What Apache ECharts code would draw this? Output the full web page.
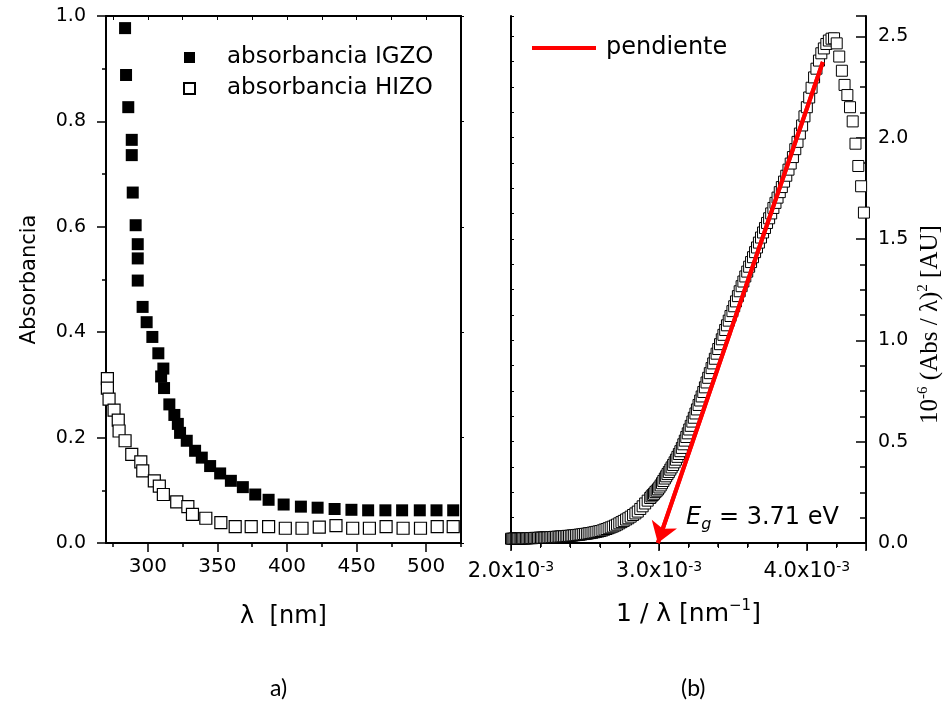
<!DOCTYPE html>
<html><head><meta charset="utf-8">
<script src="https://cdn.jsdelivr.net/npm/echarts@6/dist/echarts.min.js"></script>
<style>html,body{margin:0;padding:0;background:#fff}#c{width:946px;height:704px}</style>
</head><body><div id="c"></div>
<script>
// ---- panel a) absorbance vs wavelength ----
const igzoLambda = [283.7,284.4,286.0,288.5,288.5,289.2,291.3,292.8,292.8,292.8,296.3,299.2,303.3,307.6,311.2,309.6,311.7,315.5,319.1,321.6,323.2,328.0,334.0,338.8,344.8,352.0,359.7,368.3,377.2,386.8,397.6,410.0,422.0,434.2,446.3,458.3,470.7,482.7,495.4,507.4,519.4];
const igzoAbs = [0.977,0.888,0.827,0.765,0.736,0.665,0.603,0.567,0.540,0.498,0.448,0.419,0.391,0.360,0.331,0.316,0.294,0.263,0.243,0.226,0.209,0.194,0.175,0.162,0.146,0.132,0.118,0.106,0.092,0.082,0.073,0.069,0.067,0.0645,0.063,0.062,0.062,0.062,0.062,0.062,0.062];
const hizoLambda = [271.0,271.0,272.2,275.8,278.8,279.4,283.7,288.5,295.0,296.4,304.7,308.3,311.2,320.8,328.8,332.1,341.7,352.5,362.8,374.3,386.8,398.8,410.8,423.2,435.2,447.2,459.2,471.2,483.4,495.9,507.9,519.4];
const hizoAbs = [0.312,0.294,0.273,0.252,0.233,0.2125,0.194,0.168,0.154,0.137,0.118,0.108,0.092,0.078,0.069,0.0545,0.047,0.0385,0.031,0.031,0.031,0.028,0.028,0.030,0.033,0.028,0.028,0.031,0.028,0.028,0.031,0.031];
const lambdaMajorTicks = [300, 350, 400, 450, 500];
const lambdaMinorTicks = [275, 325, 375, 425, 475, 525];

// ---- panel (b) Tauc plot: 1/lambda in units of 1e-3 nm^-1 ----
const invLambda = [2.000,2.008,2.016,2.024,2.033,2.041,2.049,2.058,2.066,2.075,
2.083,2.092,2.101,2.110,2.119,2.128,2.137,2.146,2.155,2.165,
2.174,2.183,2.193,2.203,2.212,2.222,2.232,2.242,2.252,2.262,
2.273,2.283,2.294,2.304,2.315,2.326,2.336,2.347,2.358,2.370,
2.381,2.392,2.404,2.415,2.427,2.439,2.451,2.463,2.475,2.488,
2.500,2.513,2.525,2.538,2.551,2.564,2.577,2.591,2.604,2.618,
2.632,2.646,2.660,2.674,2.688,2.703,2.717,2.732,2.747,2.762,
2.778,2.793,2.809,2.825,2.841,2.857,2.874,2.890,2.907,2.924,
2.941,
2.950,2.959,2.967,2.976,2.985,2.994,3.003,3.012,3.021,3.030,
3.040,3.049,3.058,3.067,3.077,3.086,3.096,3.106,3.115,3.125,
3.135,3.145,3.155,3.165,3.175,3.185,3.195,3.205,3.215,3.226,
3.236,3.247,3.257,3.268,3.279,3.289,3.300,3.311,3.322,3.333,
3.344,3.356,3.367,3.378,3.390,3.401,3.413,3.425,3.436,3.448,
3.460,3.472,3.484,3.497,3.509,3.521,3.534,3.546,3.559,3.571,
3.584,3.597,3.610,3.623,3.636,3.650,3.663,3.676,3.690,3.704,
3.717,3.731,3.745,3.759,3.774,3.788,3.802,3.817,3.831,3.846,
3.861,3.876,3.891,3.906,3.922,3.937,3.953,3.968,3.984,4.000,
4.016,4.032,4.049,4.065,4.082,4.098,4.115,4.132,4.149,4.167,
4.184,4.202,
4.219,4.237,4.255,4.274,4.292,4.310,4.329,4.348,4.367,4.386];
const absSq = [0.021,0.021,0.021,0.022,0.022,0.022,0.022,0.022,0.022,0.023,
0.023,0.023,0.023,0.023,0.024,0.024,0.024,0.024,0.025,0.025,
0.025,0.025,0.026,0.026,0.026,0.027,0.027,0.027,0.028,0.028,
0.029,0.029,0.030,0.030,0.031,0.031,0.032,0.033,0.033,0.034,
0.035,0.035,0.036,0.037,0.038,0.039,0.040,0.041,0.042,0.044,
0.045,0.046,0.048,0.049,0.051,0.053,0.055,0.057,0.059,0.062,
0.066,0.069,0.073,0.077,0.081,0.086,0.091,0.097,0.103,0.109,
0.116,0.122,0.130,0.138,0.146,0.155,0.168,0.181,0.195,0.209,
0.222,
0.230,0.237,0.243,0.251,0.258,0.265,0.274,0.284,0.295,0.306,
0.318,0.329,0.340,0.350,0.362,0.373,0.385,0.398,0.411,0.425,
0.439,0.453,0.469,0.487,0.505,0.523,0.541,0.560,0.578,0.599,
0.618,0.639,0.659,0.681,0.703,0.723,0.745,0.768,0.792,0.815,
0.838,0.863,0.886,0.909,0.934,0.957,0.981,1.005,1.027,1.051,
1.074,1.097,1.120,1.144,1.168,1.192,1.218,1.242,1.267,1.290,
1.315,1.339,1.363,1.386,1.410,1.435,1.458,1.482,1.507,1.532,
1.554,1.579,1.602,1.626,1.653,1.678,1.704,1.731,1.756,1.783,
1.812,1.842,1.872,1.904,1.943,1.979,2.020,2.060,2.105,2.150,
2.198,2.246,2.297,2.340,2.380,2.416,2.440,2.462,2.479,2.488,
2.490,2.465,
2.40,2.33,2.26,2.21,2.15,2.08,1.97,1.86,1.76,1.63];
const slopeX = [4.108, 2.993];
const slopeY = [2.373, 0];
const egLabelPos = [3.70, 0.125];
const egText = '3.71 eV';

const SANS = 'DejaVu Sans';
const SERIF = 'Liberation Serif';
const zip = (a, b) => a.map((v, i) => [v, b[i]]);

const frame = {lineStyle: {color: '#000', width: 2}};
const hollow = {color: '#fff', borderColor: '#000', borderWidth: 1.2, opacity: 1};

const chart = echarts.init(document.getElementById('c'), null, {renderer: 'canvas'});
chart.setOption({
  animation: false,
  backgroundColor: '#fff',
  textStyle: {fontFamily: SANS, color: '#000'},
  title: [
    {text: 'a)', left: 265, top: 672, textStyle: {fontFamily: 'Lato', fontSize: 23, fontWeight: 'normal', color: '#000'}},
    {text: '(b)', left: 676, top: 672, textStyle: {fontFamily: 'Lato', fontSize: 23, fontWeight: 'normal', color: '#000'}}
  ],
  grid: [
    {left: 106, top: 16, width: 355, height: 527},
    {left: 511, top: 16, width: 355, height: 527}
  ],
  legend: [
    {data: ['absorbancia IGZO', 'absorbancia HIZO'], orient: 'vertical', left: 183, top: 45, padding: 0,
     itemWidth: 11, itemHeight: 11, itemGap: 6,
     textStyle: {fontFamily: SANS, fontSize: 23, color: '#000', lineHeight: 25, padding: [0, 0, 0, 27]}},
    {data: [{name: 'pendiente', icon: 'rect'}], left: 532, top: 36, padding: 0, itemWidth: 64, itemHeight: 4,
     textStyle: {fontFamily: SANS, fontSize: 24, color: '#000', padding: [0, 0, 0, 5]}}
  ],
  xAxis: [
    {gridIndex: 0, type: 'value', min: 270, max: 525, position: 'bottom',
     axisLine: frame,
     axisTick: {show: true, inside: false, length: 9, customValues: lambdaMajorTicks, lineStyle: {width: 1.5, color: '#000'}},
     minorTick: {show: false}, splitLine: {show: false},
     axisLabel: {fontSize: 20, color: '#000', margin: 14, fontFamily: SANS, customValues: lambdaMajorTicks},
     name: 'λ  [nm]', nameLocation: 'middle', nameGap: 62,
     nameTextStyle: {fontSize: 24, color: '#000', fontFamily: SANS}},
    {gridIndex: 0, type: 'value', min: 270, max: 525, position: 'bottom',
     axisLine: {show: false},
     axisTick: {show: true, inside: false, length: 4, customValues: lambdaMinorTicks, lineStyle: {width: 1.5, color: '#000'}},
     minorTick: {show: false}, splitLine: {show: false}, axisLabel: {show: false}},
    {gridIndex: 0, type: 'value', min: 270, max: 525, position: 'top',
     axisLine: frame,
     axisTick: {show: true, inside: true, length: 4, customValues: lambdaMajorTicks.concat(lambdaMinorTicks), lineStyle: {color: '#000'}},
     minorTick: {show: false}, splitLine: {show: false}, axisLabel: {show: false}},
    {gridIndex: 1, type: 'value', min: 2.0, max: 4.4, interval: 1.0, position: 'bottom',
     axisLine: frame, axisTick: {show: true, inside: false, length: 8, lineStyle: {width: 1.5, color: '#000'}},
     minorTick: {show: true, splitNumber: 5, length: 4, lineStyle: {width: 1.5, color: '#000'}},
     splitLine: {show: false},
     axisLabel: {margin: 17, showMaxLabel: false,
       formatter: v => '{m|' + v.toFixed(1) + 'x10}{s|-3}',
       rich: {m: {fontSize: 21, fontFamily: SANS, color: '#000', lineHeight: 24},
              s: {fontSize: 14, fontFamily: SANS, color: '#000', verticalAlign: 'top', lineHeight: 24}}},
     name: '{m|1 / λ [nm}{s|−1}{m|]}', nameLocation: 'middle', nameGap: 56,
     nameTextStyle: {rich: {m: {fontSize: 25, fontFamily: SANS, color: '#000', lineHeight: 30},
                            s: {fontSize: 15, fontFamily: SANS, color: '#000', verticalAlign: 'top', lineHeight: 30}}}},
    {gridIndex: 1, type: 'value', min: 2.0, max: 4.4, interval: 1.0, position: 'top',
     axisLine: frame, axisTick: {show: true, inside: true, length: 7, lineStyle: {color: '#000'}},
     minorTick: {show: true, splitNumber: 5, length: 5, lineStyle: {color: '#000'}},
     splitLine: {show: false}, axisLabel: {show: false}}
  ],
  yAxis: [
    {gridIndex: 0, type: 'value', min: 0, max: 1, interval: 0.2, position: 'left',
     axisLine: frame, axisTick: {show: true, inside: false, length: 9, lineStyle: {width: 1.5, color: '#000'}},
     minorTick: {show: true, splitNumber: 2, length: 4, lineStyle: {width: 1.5, color: '#000'}},
     splitLine: {show: false},
     axisLabel: {fontSize: 19, color: '#000', margin: 20, fontFamily: SANS, formatter: v => v.toFixed(1)},
     name: 'Absorbancia', nameLocation: 'middle', nameRotate: 90, nameGap: 66,
     nameTextStyle: {fontSize: 21, color: '#000', fontFamily: SANS}},
    {gridIndex: 0, type: 'value', min: 0, max: 1, interval: 0.2, position: 'right',
     axisLine: frame, axisTick: {show: true, inside: false, length: 3, lineStyle: {color: '#000'}},
     minorTick: {show: false}, splitLine: {show: false}, axisLabel: {show: false}},
    {gridIndex: 1, type: 'value', min: 0, max: 2.6, interval: 0.5, position: 'left',
     axisLine: frame, axisTick: {show: true, inside: true, length: 3, lineStyle: {color: '#000'}},
     minorTick: {show: true, splitNumber: 4, length: 3, lineStyle: {color: '#000'}},
     splitLine: {show: false}, axisLabel: {show: false}},
    {gridIndex: 1, type: 'value', min: 0, max: 2.6, interval: 0.5, position: 'right',
     axisLine: frame, axisTick: {show: true, inside: true, length: 10, lineStyle: {width: 1.5, color: '#000'}},
     minorTick: {show: true, splitNumber: 4, length: 6, lineStyle: {width: 1.5, color: '#000'}},
     splitLine: {show: false},
     axisLabel: {fontSize: 19, color: '#000', margin: 12, fontFamily: SANS, showMaxLabel: false, formatter: v => v.toFixed(1)},
     name: '{n|10}{s|-6}{n| (Abs / λ)}{s|2}{n| [AU]}', nameLocation: 'middle', nameRotate: 90, nameGap: 50,
     nameTextStyle: {padding: [0, 90, 0, 0],
       rich: {n: {fontSize: 25, fontFamily: SERIF, color: '#000', lineHeight: 28},
              s: {fontSize: 15, fontFamily: SERIF, color: '#000', verticalAlign: 'top', lineHeight: 28}}}}
  ],
  series: [
    {name: 'absorbancia IGZO', type: 'scatter', xAxisIndex: 0, yAxisIndex: 0,
     symbol: 'rect', symbolSize: 12, itemStyle: {color: '#000', opacity: 1}, data: zip(igzoLambda, igzoAbs)},
    {name: 'absorbancia HIZO', type: 'scatter', xAxisIndex: 0, yAxisIndex: 0,
     symbol: 'rect', symbolSize: 12, itemStyle: hollow, data: zip(hizoLambda, hizoAbs)},
    {name: 'tauc', type: 'scatter', xAxisIndex: 3, yAxisIndex: 3,
     symbol: 'rect', symbolSize: 11, itemStyle: {color: '#fff', borderColor: '#000', borderWidth: 1, opacity: 1}, data: zip(invLambda, absSq)},
    {name: 'pendiente', type: 'line', xAxisIndex: 3, yAxisIndex: 3, showSymbol: false, symbol: 'none',
     lineStyle: {color: '#ff0000', width: 4}, itemStyle: {color: '#ff0000'},
     data: zip(slopeX, slopeY), z: 5,
     markLine: {silent: true, symbol: ['none', 'arrow'], symbolSize: 20, label: {show: false},
       lineStyle: {color: '#ff0000', width: 4, type: 'solid'},
       data: [[{coord: [slopeX[0], slopeY[0]]}, {coord: [slopeX[1], slopeY[1]]}]]},
     markPoint: {silent: true, symbol: 'circle', symbolSize: 1, itemStyle: {color: 'rgba(0,0,0,0)'},
       label: {show: true, position: 'inside', formatter: '{i|E}{g|g}{n| = ' + egText + '}',
         rich: {i: {fontSize: 24, fontStyle: 'italic', fontFamily: SANS, color: '#000', lineHeight: 30},
                g: {fontSize: 16, fontStyle: 'italic', fontFamily: SANS, color: '#000', verticalAlign: 'bottom', lineHeight: 30},
                n: {fontSize: 24, fontFamily: SANS, color: '#000', lineHeight: 30}}},
       data: [{coord: egLabelPos}]}}
  ]
});
</script></body></html>
